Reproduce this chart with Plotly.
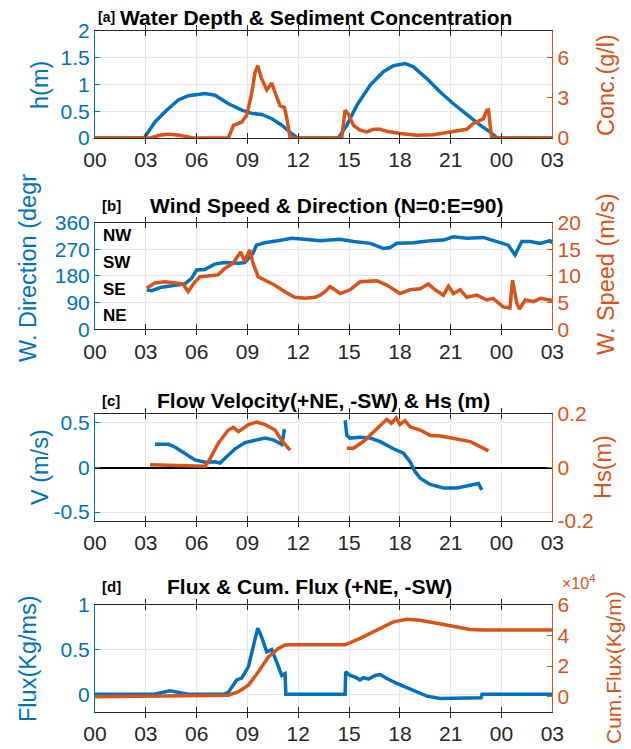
import plotly.graph_objects as go

# ---------------- data ----------------
hour_ticks = [0, 3, 6, 9, 12, 15, 18, 21, 24, 27]
hour_labels = ['00', '03', '06', '09', '12', '15', '18', '21', '00', '03']

# (a) water depth & sediment concentration
depth_hours = [0, 2.9, 3.54, 4.23, 4.92, 5.51, 6.5, 7.09, 7.88, 8.67, 9.26, 9.85, 10.44,
               11.03, 11.62, 11.95, 14.37, 14.87, 15.46, 16.25, 17.03, 17.62, 18.31, 18.8,
               19.59, 20.38, 21.16, 21.95, 22.74, 23.33, 23.75, 27]
depth_m = [0, 0, 0.30, 0.52, 0.71, 0.79, 0.83, 0.80, 0.64, 0.52, 0.46, 0.44, 0.36,
           0.24, 0.08, 0, 0, 0.24, 0.61, 0.99, 1.24, 1.35, 1.39, 1.33,
           1.11, 0.86, 0.64, 0.43, 0.24, 0.11, 0, 0]
conc_hours = [0, 3.3, 3.8, 4.33, 5.0, 5.8, 7.88, 8.17, 8.67, 8.96, 9.26, 9.45, 9.61, 9.85,
              10.14, 10.44, 10.63, 10.93, 11.18, 11.33, 11.52, 14.57, 14.76, 14.96, 15.26,
              15.65, 16.05, 16.44, 16.84, 17.23, 18.0, 19.0, 19.98, 21.16, 21.95, 22.34,
              22.93, 23.13, 23.23, 23.33, 23.43, 27]
conc_gl = [0, 0, 0.2, 0.28, 0.2, 0, 0, 0.95, 1.2, 1.7, 3.4, 4.9, 5.4, 4.4,
           3.6, 4.1, 3.4, 2.4, 2.3, 1.45, 0, 0, 2.07, 1.8, 0.95,
           0.58, 0.45, 0.65, 0.65, 0.5, 0.33, 0.2, 0.25, 0.5, 0.65, 1.08,
           1.45, 2.07, 2.1, 0.95, 0, 0]

# (b) wind direction & speed
wdir_hours = [3.05, 3.34, 3.93, 4.72, 5.31, 5.7, 6.0, 6.48, 7.07, 7.66, 8.45, 8.84, 9.33,
              9.53, 10.02, 10.8, 11.6, 12.4, 13.29, 14.47, 15.26, 16.25, 17.03, 17.43,
              17.82, 18.8, 19.79, 20.57, 21.16, 21.95, 22.93, 23.73, 24.4, 24.8, 25.2,
              25.7, 26.27, 26.86, 27]
wdir_deg = [133, 130, 142, 149, 153, 172, 200, 202, 220, 225, 223, 225, 256,
            284, 292, 299, 307, 304, 299, 304, 296, 290, 273, 276,
            290, 292, 299, 301, 312, 307, 310, 296, 284, 251, 296,
            296, 290, 299, 292]
wspd_hours = [3.05, 3.54, 4.13, 4.72, 5.2, 5.5, 5.9, 6.2, 6.79, 7.27, 7.66, 8.15, 8.6,
              8.84, 9.13, 9.33, 9.63, 10.02, 10.6, 11.2, 11.8, 12.4, 13.0, 13.29, 13.58,
              13.88, 14.47, 15.06, 15.65, 16.64, 17.23, 18.0, 18.6, 19.2, 19.68, 20.08,
              20.57, 20.87, 21.16, 21.56, 21.95, 22.54, 23.13, 23.5, 24.1, 24.5, 24.65,
              24.9, 25.06, 25.4, 25.9, 26.3, 26.9, 27]
wspd_ms = [7.7, 8.7, 8.9, 8.6, 8.5, 7.05, 8.9, 9.86, 10.0, 10.2, 11.4, 12.4, 14.5,
           12.7, 14.9, 12.4, 9.86, 9.2, 8.3, 7.05, 6.0, 5.8, 6.0, 6.4, 7.05,
           8.0, 6.7, 7.4, 8.9, 9.1, 8.3, 6.7, 7.4, 7.6, 8.5, 7.4,
           6.4, 8.1, 6.7, 7.4, 6.0, 6.4, 5.5, 5.8, 4.2, 4.0, 9.2,
           5.0, 3.8, 5.5, 5.2, 5.8, 5.4, 5.4]
wind_sector_labels = ['NE', 'SE', 'SW', 'NW']
wind_sector_deg = [45, 135, 225, 315]

# (c) flow velocity & Hs (two deployments, gap between)
vel_hours_1 = [3.54, 3.84, 4.33, 4.72, 5.3, 5.9, 6.5, 7.09, 7.38, 7.68, 8.27, 8.86, 9.45,
               10.04, 10.53, 11.03, 11.18, 11.2]
vel_ms_1 = [0.26, 0.26, 0.26, 0.23, 0.16, 0.085, 0.06, 0.065, 0.05, 0.10, 0.21, 0.28, 0.31,
            0.33, 0.31, 0.26, 0.42, 0.43]
vel_hours_2 = [14.77, 14.87, 15.06, 15.65, 16.25, 16.84, 17.62, 18.21, 18.6, 18.9, 19.2,
               19.79, 20.57, 21.36, 22.15, 22.64, 22.84]
vel_ms_2 = [0.53, 0.36, 0.33, 0.34, 0.33, 0.29, 0.21, 0.16, 0.065, -0.047, -0.12,
            -0.19, -0.23, -0.23, -0.2, -0.18, -0.25]
hs_hours_1 = [3.25, 4.33, 5.3, 6.5, 6.69, 7.27, 7.87, 8.17, 8.47, 9.06, 9.55, 10.04, 10.63,
              11.03, 11.52]
hs_m_1 = [0.01, 0.008, 0.005, 0.005, 0.02, 0.09, 0.14, 0.15, 0.134, 0.16, 0.17, 0.16, 0.14,
          0.10, 0.065]
hs_hours_2 = [14.87, 15.26, 15.85, 16.44, 16.93, 17.23, 17.5, 17.78, 18.0, 18.3, 18.6, 19.2,
              19.79, 20.38, 20.97, 21.56, 22.15, 22.74, 23.23]
hs_m_2 = [0.072, 0.072, 0.097, 0.134, 0.165, 0.18, 0.165, 0.186, 0.16, 0.175, 0.152, 0.14,
          0.12, 0.118, 0.111, 0.103, 0.097, 0.078, 0.062]

# (d) flux & cumulative flux (cum. flux in units of 1e4 kg/m)
flux_hours = [0, 3.5, 4.43, 5.5, 7.6, 7.87, 8.37, 8.66, 9.06, 9.36, 9.61, 9.84, 10.14, 10.44,
              10.73, 11.03, 11.22, 11.27, 14.77, 14.8, 15.06, 15.36, 15.65, 15.85, 16.14,
              16.54, 16.84, 17.23, 17.82, 18.41, 19.0, 19.6, 20.38, 21.16, 21.95, 22.8,
              22.85, 27]
flux_kgms = [0, 0, 0.037, 0, 0, 0.02, 0.16, 0.18, 0.31, 0.53, 0.74, 0.64, 0.475, 0.50,
             0.345, 0.21, 0.23, 0, 0, 0.25, 0.21, 0.19, 0.16, 0.185, 0.17,
             0.21, 0.22, 0.175, 0.12, 0.075, 0.026, -0.022, -0.048, -0.048, -0.04, -0.04,
             0, 0]
cum_hours = [0, 7.6, 7.87, 8.47, 9.06, 9.65, 10.24, 10.83, 11.22, 11.5, 14.77, 15.65, 16.64,
             17.62, 18.41, 19.2, 20.18, 21.16, 22.15, 22.93, 27]
cum_flux_1e4 = [0, 0.05, 0.1, 0.33, 0.76, 1.63, 2.61, 3.16, 3.38, 3.4, 3.4, 3.82, 4.36,
                4.9, 5.06, 5.0, 4.8, 4.58, 4.4, 4.36, 4.36]

# ---------------- styling ----------------
W, H = 631, 749
BLUE = '#0072BD'
ORANGE = '#D95319'
DARK = '#262626'
GRID = '#e6e6e6'
FONT = 'Liberation Sans'
TICK_SIZE = 21
LW = 3.5

def px(p):
    return p / W

def py(p):
    return 1 - p / H

XD = [95 / W, 552.3 / W]
PANELS = [(31, 138), (222.6, 329.3), (414, 521), (605, 712)]


def seg(h1, v1, h2, v2):
    return h1 + [None] + h2, v1 + [None] + v2


fig = go.Figure()


def add(xs, ys, i, right, color):
    fig.add_trace(go.Scatter(
        x=xs, y=ys, mode='lines', line=dict(color=color, width=LW),
        xaxis='x' if i == 1 else f'x{i}',
        yaxis=f'y{2 * i}' if right else ('y' if i == 1 else f'y{2 * i - 1}'),
        showlegend=False, hoverinfo='skip', connectgaps=False))


add(depth_hours, depth_m, 1, False, BLUE)
add(conc_hours, conc_gl, 1, True, ORANGE)
add(wdir_hours, wdir_deg, 2, False, BLUE)
add(wspd_hours, wspd_ms, 2, True, ORANGE)
vx, vy = seg(vel_hours_1, vel_ms_1, vel_hours_2, vel_ms_2)
hx, hy = seg(hs_hours_1, hs_m_1, hs_hours_2, hs_m_2)
add(vx, vy, 3, False, BLUE)
add(hx, hy, 3, True, ORANGE)
add(flux_hours, flux_kgms, 4, False, BLUE)
add(cum_hours, cum_flux_1e4, 4, True, ORANGE)

left_cfg = [
    dict(range=[0, 2], tickvals=[0, 0.5, 1, 1.5, 2], ticktext=['0', '0.5', '1', '1.5', '2']),
    dict(range=[0, 360], tickvals=[0, 90, 180, 270, 360]),
    dict(range=[-0.6, 0.6], tickvals=[-0.5, 0, 0.5], ticktext=['-0.5', '0', '0.5'],
         zeroline=True, zerolinecolor='black', zerolinewidth=2),
    dict(range=[-0.2, 1], tickvals=[0, 0.5, 1], ticktext=['0', '0.5', '1']),
]
right_cfg = [
    dict(range=[0, 8], tickvals=[0, 3, 6]),
    dict(range=[0, 20], tickvals=[0, 5, 10, 15, 20]),
    dict(range=[-0.2, 0.2], tickvals=[-0.2, 0, 0.2], ticktext=['-0.2', '0', '0.2']),
    dict(range=[-1, 6], tickvals=[0, 2, 4, 6]),
]

layout = dict(
    width=W, height=H, margin=dict(l=0, r=0, t=0, b=0, autoexpand=False),
    paper_bgcolor='white', plot_bgcolor='white',
    font=dict(family=FONT, color=DARK),
)

for i in range(1, 5):
    top, bot = PANELS[i - 1]
    dom = [py(bot), py(top)]
    xname = 'xaxis' if i == 1 else f'xaxis{i}'
    lname = 'yaxis' if i == 1 else f'yaxis{2 * i - 1}'
    rname = f'yaxis{2 * i}'
    lref = 'y' if i == 1 else f'y{2 * i - 1}'
    xref = 'x' if i == 1 else f'x{i}'
    layout[xname] = dict(
        domain=XD, anchor=lref, range=[0, 27], tickvals=hour_ticks, ticktext=hour_labels,
        showgrid=True, gridcolor=GRID, gridwidth=1, zeroline=False, automargin=False,
        showline=True, linecolor=DARK, linewidth=1, mirror='allticks',
        ticks='inside', ticklen=5, tickcolor=DARK, ticklabelstandoff=3,
        tickfont=dict(size=TICK_SIZE, color=DARK, family=FONT), fixedrange=True)
    lc = dict(domain=dom, anchor=xref, side='left', showgrid=True, gridcolor=GRID,
              zeroline=False, showline=True, linecolor=BLUE, linewidth=1, automargin=False,
              ticks='inside', ticklen=5, tickcolor=BLUE,
              tickfont=dict(size=TICK_SIZE, color=BLUE, family=FONT), fixedrange=True)
    lc.update(left_cfg[i - 1])
    layout[lname] = lc
    rc = dict(domain=dom, anchor=xref, overlaying=lref, side='right', showgrid=False,
              zeroline=False, showline=True, linecolor=ORANGE, linewidth=1, automargin=False,
              ticks='inside', ticklen=5, tickcolor=ORANGE,
              tickfont=dict(size=TICK_SIZE, color=ORANGE, family=FONT), fixedrange=True)
    rc.update(right_cfg[i - 1])
    layout[rname] = rc

fig.update_layout(**layout)

ann = []


def text(x, y, s, size, color, angle=0, xanchor='center', yanchor='middle'):
    ann.append(dict(x=px(x), y=py(y), xref='paper', yref='paper', text=s, showarrow=False,
                    textangle=angle, xanchor=xanchor, yanchor=yanchor,
                    font=dict(family=FONT, size=size, color=color)))


# panel titles
TS = 21
text(96, 17, '<b>[a]</b>', 14, 'black', xanchor='left')
text(118, 17, '<b>Water Depth & Sediment Concentration</b>', TS, 'black', xanchor='left')
text(100, 206, '<b>[b]</b>', 15, 'black', xanchor='left')
text(148, 206, '<b>Wind Speed & Direction (N=0:E=90)</b>', TS, 'black', xanchor='left')
text(100, 400, '<b>[c]</b>', 15, 'black', xanchor='left')
text(155, 400, '<b>Flow Velocity(+NE, -SW) & Hs (m)</b>', TS, 'black', xanchor='left')
text(100, 586, '<b>[d]</b>', 15, 'black', xanchor='left')
text(165, 586, '<b>Flux & Cum. Flux (+NE, -SW)</b>', TS, 'black', xanchor='left')

# axis titles
AS = 23.5
text(40, 85, 'h(m)', AS, BLUE, -90)
text(606, 85, 'Conc.(g/l)', AS, ORANGE, -90)
text(28, 268, 'W. Direction (degr', AS, BLUE, -90)
text(606, 274, 'W. Speed (m/s)', AS, ORANGE, -90)
text(40, 467, 'V (m/s)', AS, BLUE, -90)
text(603, 467, 'Hs(m)', AS, ORANGE, -90)
text(28, 659, 'Flux(Kg/ms)', AS, BLUE, -90)
text(613, 668, 'Cum.Flux(Kg/m)', 21, ORANGE, -90)
text(578, 582, '×10<sup>4</sup>', 16, ORANGE)

# wind sector labels
for lab, deg in zip(wind_sector_labels, wind_sector_deg):
    ann.append(dict(x=0.35, y=deg, xref='x2', yref='y3', text='<b>' + lab + '</b>',
                    showarrow=False, xanchor='left', yanchor='middle',
                    font=dict(family=FONT, size=17, color='black')))

fig.update_layout(annotations=ann)
fig.write_html('out.html', config={'displayModeBar': False},
               post_script="document.body.style.margin='0px';document.body.style.overflow='hidden';")
